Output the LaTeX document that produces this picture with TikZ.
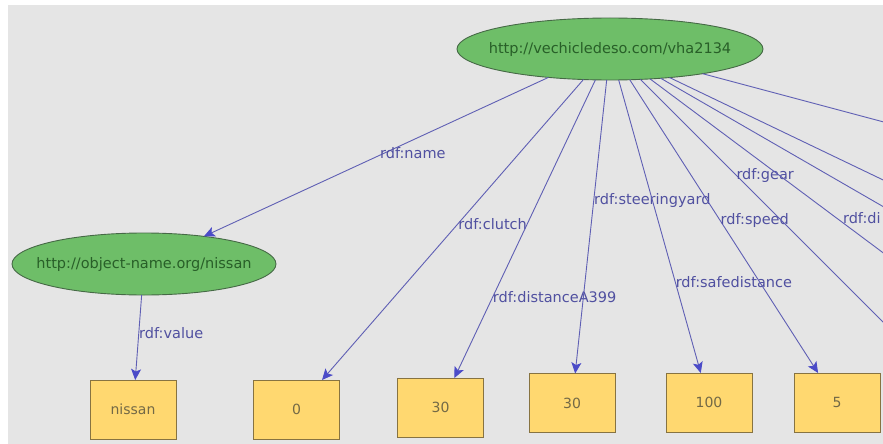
\documentclass[tikz,border=0pt]{standalone}
\usepackage{fontspec}
\setmainfont{DejaVu Sans}
\usetikzlibrary{shapes.geometric,arrows.meta}
\definecolor{bgc}{RGB}{229,229,229}
\definecolor{ellfill}{RGB}{110,190,104}
\definecolor{elldraw}{RGB}{70,105,70}
\definecolor{elltext}{RGB}{40,95,40}
\definecolor{boxfill}{RGB}{255,216,112}
\definecolor{boxdraw}{RGB}{135,115,65}
\definecolor{boxtext}{RGB}{115,105,70}
\definecolor{edgec}{RGB}{95,95,180}
\definecolor{tipc}{RGB}{75,75,200}
\definecolor{lblc}{RGB}{80,80,160}
\tikzset{
  res/.style={ellipse, draw=elldraw, fill=ellfill, line width=0.9pt,
    minimum width=306pt, minimum height=62pt, inner sep=0pt, outer sep=0pt,
    text=elltext, font=\fontsize{14.5}{17}\selectfont},
  lit/.style={rectangle, draw=boxdraw, fill=boxfill, line width=1pt,
    minimum width=86pt, minimum height=59pt, inner sep=0pt, outer sep=0pt,
    text=boxtext, font=\fontsize{14}{17}\selectfont},
  edge/.style={draw=edgec, line width=0.9pt,
    -{Stealth[length=11pt,width=10pt,inset=2.5pt,color=tipc,fill=tipc]}},
  lbl/.style={anchor=west, inner sep=0pt, text=lblc,
    font=\fontsize{14.5}{17}\selectfont}
}
\begin{document}
\begin{tikzpicture}[x=1pt,y=-1pt]
\useasboundingbox (0,0) rectangle (883,444);
\clip (0,0) rectangle (883,444);
\fill[bgc] (8,5) rectangle (883,444);

% nodes
\node[res] (V) at (610,49) {\makebox[0pt]{http://vechicledeso.com/vha2134}};
\node[res, minimum width=264pt] (N) at (144,264) {\makebox[0pt]{http://object-name.org/nissan}};
\node[lit] (Bn) at (133,409.5) {nissan};
\node[lit] (B0) at (296.5,409.5) {0};
\node[lit] (B30a) at (440.5,407.5) {30};
\node[lit] (B30b) at (572,403) {30};
\node[lit] (B100) at (709,402.5) {100};
\node[lit] (B5) at (837,402.5) {5};

% off-picture targets
\coordinate (oA) at (1000,439);
\coordinate (oB) at (1000,340);
\coordinate (oC) at (1000,274);
\coordinate (oD) at (1000,236);
\coordinate (oE) at (1000,153);

% edges
\draw[edge] (V) -- node[lbl,pos=0.49,yshift=2pt]{rdf:name} (N);
\draw[edge] (N) -- node[lbl,pos=0.45]{rdf:value} (Bn);
\draw[edge] (V) -- node[lbl,pos=0.48]{rdf:clutch} (B0);
\draw[edge] (V) -- node[lbl,pos=0.73]{rdf:distanceA399} (B30a);
\draw[edge] (V) -- node[lbl,pos=0.41]{rdf:steeringyard} (B30b);
\draw[edge] (V) -- node[lbl,pos=0.69]{rdf:safedistance} (B100);
\draw[edge] (V) -- node[lbl,pos=0.48]{rdf:speed} (B5);
\draw[edge] (V) -- node[lbl,pos=0.266]{rdf:gear} (oA);
\draw[edge] (V) -- node[lbl,pos=0.533,xshift=6pt]{rdf:di} (oB);
\draw[edge] (V) -- (oC);
\draw[edge] (V) -- (oD);
\draw[edge] (V) -- (oE);
\end{tikzpicture}
\end{document}
